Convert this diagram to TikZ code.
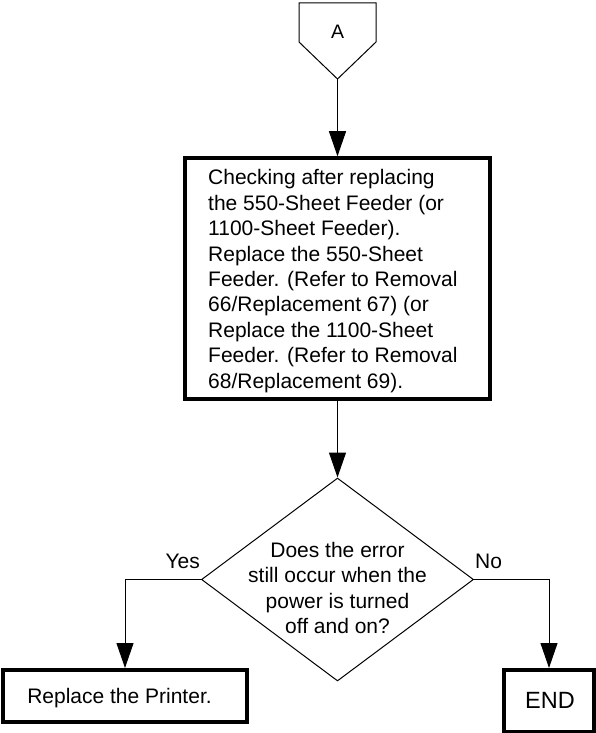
\documentclass[tikz,border=0pt]{standalone}
\usepackage{fontspec}
\setmainfont{Liberation Sans}
\usetikzlibrary{arrows.meta,shapes.geometric}
\begin{document}
\begin{tikzpicture}[x=1pt,y=-1pt,
  txt/.style={font=\fontsize{21}{25.4}\selectfont, inner sep=0pt},
  thickbox/.style={draw, line width=3.5pt, rectangle, inner sep=0pt},
  endbox/.style={draw, line width=4pt, rectangle, inner sep=0pt},
  conn/.style={draw, line width=1pt, -{Triangle[length=25pt,width=17pt]}},
  thinline/.style={draw, line width=1pt}]
\useasboundingbox (0,0) rectangle (596,733);
\fill[white] (0,0) rectangle (596,733);

% off-page connector A
\coordinate (Atl) at (299,3);
\coordinate (Atr) at (376,3);
\coordinate (Ar) at (376,42);
\coordinate (Atip) at (337.5,79);
\coordinate (Al) at (299,42);
\draw[thinline, line join=miter] (Atl) -- (Atr) -- (Ar) -- (Atip) -- (Al) -- cycle;
\node[txt, font=\fontsize{19.5}{23}\selectfont] (A) at (337.5,32) {A};

% main process box
\node[thickbox, minimum width=305pt, minimum height=241pt] (check) at (337.5,278.5) {};
\node[txt, anchor=west, align=left] (checktext) at (208,281) {Checking after replacing\\the 550-Sheet Feeder (or\\1100-Sheet Feeder).\\Replace the 550-Sheet\\Feeder. (Refer to Removal\\66/Replacement 67) (or\\Replace the 1100-Sheet\\Feeder. (Refer to Removal\\68/Replacement 69).};

% decision
\node[diamond, draw, line width=1pt, minimum width=272pt, minimum height=203pt, inner sep=0pt] (q) at (337.5,579.5) {};
\node[txt, align=center] (qtext) at (337.5,588) {Does the error\\still occur when the\\power is turned\\off and on?};

% outcomes
\node[endbox, minimum width=244pt, minimum height=52pt] (rep) at (125,696) {};
\node[txt, anchor=base] (reptext) at (119.5,703) {Replace the Printer.};
\node[endbox, minimum width=90pt, minimum height=62pt] (end) at (549,701) {};
\node[txt, font=\fontsize{23.5}{28}\selectfont, anchor=base] (endtext) at (550,708) {END};

% labels
\node[txt, anchor=base east] (yes) at (200,568) {Yes};
\node[txt, anchor=base west] (no) at (475,568) {No};

% connectors
\draw[conn] (Atip) -- (check.north);
\draw[conn] (check.south) -- (q.north);
\draw[conn] (q.west) -| (rep.north);
\draw[conn] (q.east) -| (end.north);
\end{tikzpicture}
\end{document}
